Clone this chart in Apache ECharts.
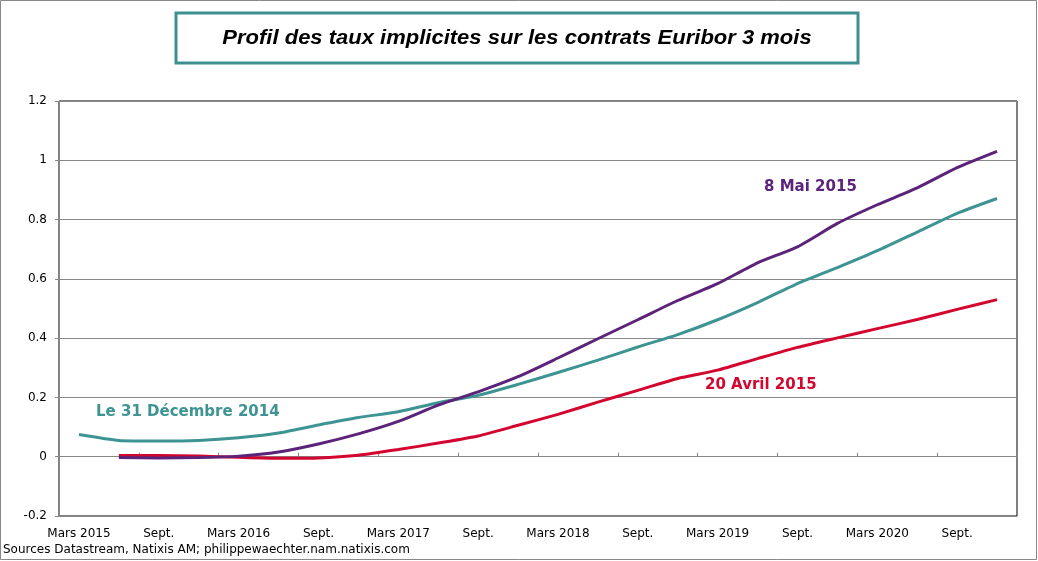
<!DOCTYPE html>
<html><head><meta charset="utf-8">
<script src="https://cdn.jsdelivr.net/npm/echarts@6/dist/echarts.min.js"></script>
<style>html,body{margin:0;padding:0;background:#fff}#c{width:1038px;height:561px}</style>
</head><body><div id="c"></div>
<script>
const categories = ['Mars 2015','Juin','Sept.','Déc.','Mars 2016','Juin','Sept.','Déc.','Mars 2017','Juin','Sept.','Déc.','Mars 2018','Juin','Sept.','Déc.','Mars 2019','Juin','Sept.','Déc.','Mars 2020','Juin','Sept.','Déc.'];
const dec2014 = [0.075,0.055,0.053,0.055,0.064,0.08,0.107,0.132,0.152,0.182,0.207,0.244,0.284,0.326,0.37,0.412,0.462,0.52,0.584,0.638,0.695,0.758,0.821,0.871];
const avr2015 = [null,0.004,0.004,0.002,-0.002,-0.005,-0.004,0.005,0.024,0.046,0.07,0.106,0.143,0.184,0.224,0.264,0.292,0.331,0.369,0.401,0.432,0.463,0.497,0.53];
const mai2015 = [null,-0.003,-0.004,-0.003,0.002,0.016,0.043,0.077,0.119,0.174,0.219,0.27,0.333,0.398,0.462,0.527,0.584,0.654,0.708,0.787,0.85,0.907,0.975,1.03];
const yTicks = {min:-0.2, max:1.2, interval:0.2};

const chart = echarts.init(document.getElementById('c'));
const teal = '#3E9393', purple = '#5B2379', red = '#D2062E';
const font = 'DejaVu Sans';
chart.setOption({
  animation:false,
  grid:{left:59,right:21,top:101,bottom:45,show:true,borderColor:'#000',borderWidth:1},
  xAxis:[{
    type:'category', data:categories, boundaryGap:true,
    axisLine:{show:false,onZero:false}, axisTick:{show:false},
    axisLabel:{interval:1,color:'#000',fontFamily:font,fontSize:12,margin:12},
    splitLine:{show:false}
  },{
    type:'category', data:categories, boundaryGap:true,
    axisLine:{show:true,onZero:true,lineStyle:{color:'#888',width:1}},
    axisTick:{show:true,interval:1,length:4,lineStyle:{color:'#888'}},
    axisLabel:{show:false}
  }],
  yAxis:{
    type:'value', min:yTicks.min, max:yTicks.max, interval:yTicks.interval,
    axisLine:{show:true,lineStyle:{color:'#888'}},
    axisTick:{show:true,length:4,lineStyle:{color:'#888'}},
    axisLabel:{color:'#000',fontFamily:font,fontSize:12,margin:12,formatter:v=>String(Math.round(v*10)/10)},
    splitLine:{show:true,lineStyle:{color:'#888',width:1}}
  },
  series:[
    {type:'line',name:'Le 31 Décembre 2014',data:dec2014,symbol:'none',smooth:0.2,lineStyle:{color:teal,width:3}},
    {type:'line',name:'20 Avril 2015',data:avr2015,symbol:'none',smooth:0.2,lineStyle:{color:red,width:3}},
    {type:'line',name:'8 Mai 2015',data:mai2015,symbol:'none',smooth:0.2,lineStyle:{color:purple,width:3}}
  ],
  graphic:[
    {type:'rect',shape:{x:0.5,y:0.5,width:1036,height:559},style:{fill:'none',stroke:'#888',lineWidth:1},silent:true},
    {type:'rect',shape:{x:176,y:13,width:682,height:50},style:{fill:'#fff',stroke:'#3E8F8F',lineWidth:3}},
    {type:'text',x:517,y:38,scaleX:1.1,style:{text:'Profil des taux implicites sur les contrats Euribor 3 mois',font:'italic bold 20px "Liberation Sans", sans-serif',fill:'#000',textAlign:'center',textVerticalAlign:'middle'}},
    {type:'text',x:96,y:412,style:{text:'Le 31 Décembre 2014',font:'bold 15px "DejaVu Sans"',fill:teal,textVerticalAlign:'middle'}},
    {type:'text',x:764,y:187,style:{text:'8 Mai 2015',font:'bold 15px "DejaVu Sans"',fill:purple,textVerticalAlign:'middle'}},
    {type:'text',x:705,y:385,style:{text:'20 Avril 2015',font:'bold 15px "DejaVu Sans"',fill:red,textVerticalAlign:'middle'}},
    {type:'text',x:3,y:550,style:{text:'Sources Datastream, Natixis AM; philippewaechter.nam.natixis.com',font:'12px "DejaVu Sans"',fill:'#000',textVerticalAlign:'middle'}}
  ]
});
</script></body></html>
